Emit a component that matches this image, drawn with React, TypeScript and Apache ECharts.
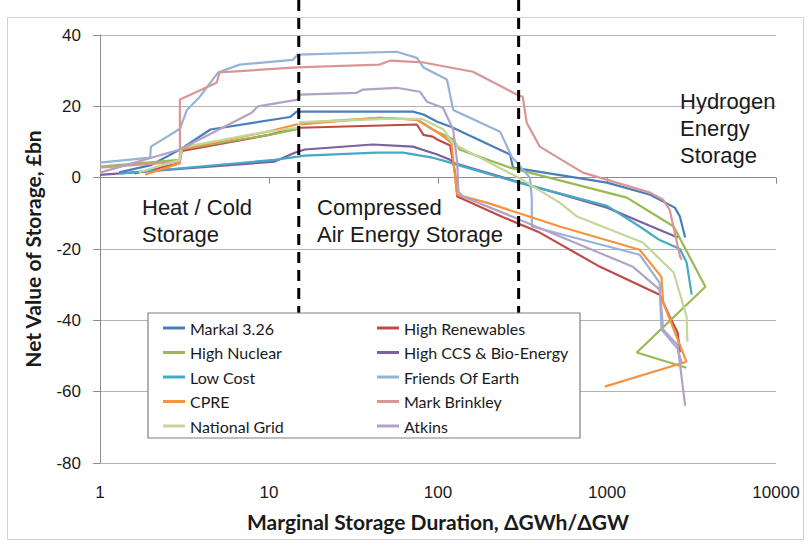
import React, { useEffect, useRef } from "react";
import * as echarts from "echarts";

const seriesNames = [
  "Markal 3.26",
  "High Renewables",
  "High Nuclear",
  "High CCS & Bio-Energy",
  "Low Cost",
  "Friends Of Earth",
  "CPRE",
  "Mark Brinkley",
  "National Grid",
  "Atkins",
];
const legendCol1 = ["Markal 3.26", "High Nuclear", "Low Cost", "CPRE", "National Grid"];
const legendCol2 = ["High Renewables", "High CCS & Bio-Energy", "Friends Of Earth", "Mark Brinkley", "Atkins"];
const seriesColors = [
  "#4A7EBB", "#BE4B48", "#98B954", "#7D60A0", "#46AAC5",
  "#95B3D7", "#F69240", "#D99694", "#C3D69B", "#B3A2C7",
];

const markal = [[1.3,1.5],[2,3.5],[3,8],[4.5,13.5],[13.3,17],[14.6,18.5],[15.3,18.5],[71,18.5],[82,17.7],[99,15.7],[120,14.2],[267,6.5],[278,2.8],[400,1.6],[1000,-1.4],[1800,-4.8],[2520,-8.4],[2700,-10.9],[2900,-16.8]];
const highRenewables = [[1.6,1.2],[2.95,4],[3.05,7.5],[10,12],[13.3,13.5],[15.3,14],[75,14.9],[82,12],[93,11.5],[99,10.7],[118,9],[126,1.4],[130,-5.3],[241,-11],[400,-15.4],[910,-25],[2050,-32.8],[2350,-39],[2620,-43.5],[2700,-49]];
const highNuclear = [[1,3.1],[2.95,5],[3.05,8],[10,12],[14.5,13.5],[15.3,15.4],[45,16.8],[75,16.3],[93,13.5],[123,10.7],[134,7.9],[267,2.8],[1310,-5.6],[2480,-13.7],[3820,-30.6],[1500,-49],[2950,-53.3]];
const highCCS = [[1,0.8],[10.8,4.5],[14.2,7],[16.3,7.9],[41,9.3],[71,8.7],[99,6.5],[118,5],[123,4.2],[300,-1.2],[1000,-8.4],[1560,-12.3],[2620,-16.8]];
const lowCost = [[1.3,1.1],[10.8,5],[14.8,5.9],[16.3,6.2],[43,7],[62,7],[93,5.6],[113,4.5],[130,3.6],[300,-1.4],[1000,-7.9],[1560,-13.7],[2050,-17.5],[2700,-20],[2960,-23.8],[3170,-32.8]];
const friendsOfEarth = [[1,4.2],[1.98,5.6],[2,8.7],[2.5,11.5],[2.97,13.7],[3.27,19],[3.9,22.7],[5,29.5],[6.7,31.7],[13.8,33],[14.8,34.5],[57,35.3],[75,33.6],[82,30.9],[113,27.5],[123,19],[233,12.9],[273,5.9],[350,0],[359,-6],[359,-13.7],[1560,-21.6],[2050,-29.5],[2100,-42.6],[2620,-48],[2770,-52]];
const cpre = [[1.85,0.8],[2.95,4],[3.05,8],[10,13],[14.5,14.9],[15.3,14.9],[45,16.8],[75,16.3],[100,12.6],[120,9.8],[123,5],[130,-4.8],[194,-7],[525,-13.7],[1560,-20.2],[2100,-27.8],[2150,-35],[2950,-51.6],[970,-58.6]];
const markBrinkley = [[1,2.8],[2.97,4.5],[2.97,21.9],[4.9,26.6],[5.1,29.5],[14.6,30.9],[45,31.7],[52,32.8],[82,32.3],[161,29.7],[292,23.3],[317,22.7],[335,15.4],[400,8.7],[720,1.4],[1800,-4.2],[2150,-6.2],[2350,-9],[2700,-22],[2770,-23]];
const nationalGrid = [[1.7,1.5],[2.97,5],[3.05,8.5],[10,13],[14.8,14],[15.3,15.6],[50,16.5],[80,16.5],[108,13.5],[123,9.5],[300,0],[525,-7],[665,-10.9],[1630,-18.2],[2480,-26.6],[2960,-39],[2990,-46]];
const atkins = [[1,1.4],[2.97,7.9],[7.9,18.2],[8.6,20],[14.8,21.9],[15.3,23.3],[33,23.8],[36,24.7],[57,25.2],[78,24.1],[86,21.3],[107,19.6],[123,13.5],[130,4.2],[132,-3.9],[140,-5.3],[241,-9.8],[1425,-25],[2050,-31.4],[2150,-42.6],[2620,-47],[2900,-64]];

const seriesData = [markal, highRenewables, highNuclear, highCCS, lowCost, friendsOfEarth, cpre, markBrinkley, nationalGrid, atkins];

const xTicks = [1, 10, 100, 1000, 10000];
const yMin = -80, yMax = 40, yStep = 20;
const regionBounds = [15, 300];
const regionLabels = ["Heat / Cold\nStorage", "Compressed\nAir Energy Storage", "Hydrogen\nEnergy\nStorage"];

export default function App() {
  const ref = useRef<HTMLDivElement>(null);
  useEffect(() => {
    if (!ref.current) return;
    const chart = echarts.init(ref.current, null, { renderer: "svg" });
    const legendCommon = {
      orient: "vertical",
      icon: "rect",
      itemWidth: 22,
      itemHeight: 3,
      itemGap: 8.5,
      padding: 0,
      z: 6,
      textStyle: { fontFamily: "Lato", fontSize: 16, color: "#1a1a1a", lineHeight: 16 },
    };
    chart.setOption({
      animation: false,
      backgroundColor: "#ffffff",
      grid: { left: 100, right: 34, top: 35, bottom: 81, containLabel: false },
      xAxis: {
        type: "log",
        logBase: 10,
        min: xTicks[0],
        max: xTicks[xTicks.length - 1],
        name: "Marginal Storage Duration, \u0394GWh/\u0394GW",
        nameLocation: "middle",
        nameGap: 48,
        nameTextStyle: { fontFamily: "Lato", fontWeight: "bold", fontSize: 21, color: "#1a1a1a" },
        axisLine: { show: true, lineStyle: { color: "#8c8c8c", width: 1 } },
        axisTick: { show: true, length: 6, lineStyle: { color: "#8c8c8c" } },
        minorTick: { show: false },
        splitLine: { show: false },
        axisLabel: {
          fontFamily: "Liberation Sans",
          fontSize: 17,
          color: "#1a1a1a",
          margin: 21,
          formatter: (v: number) => String(Math.round(v)),
        },
      },
      yAxis: {
        type: "value",
        min: yMin,
        max: yMax,
        interval: yStep,
        name: "Net Value of Storage, \u00a3bn",
        nameLocation: "middle",
        nameGap: 57,
        nameTextStyle: { fontFamily: "Lato", fontWeight: "bold", fontSize: 21, color: "#1a1a1a" },
        axisLine: { show: true, lineStyle: { color: "#8c8c8c", width: 1 } },
        axisTick: { show: true, length: 7, lineStyle: { color: "#8c8c8c" } },
        splitLine: { show: true, lineStyle: { color: "#b3b3b3", width: 1 } },
        axisLabel: { fontFamily: "Liberation Sans", fontSize: 17, color: "#1a1a1a", margin: 19 },
      },
      legend: [
        { ...legendCommon, data: legendCol1, left: 163, top: 320 },
        { ...legendCommon, data: legendCol2, left: 377, top: 320 },
      ],
      series: seriesNames.map((name, i) => ({
        name,
        type: "line",
        data: seriesData[i],
        showSymbol: false,
        symbol: "none",
        color: seriesColors[i],
        lineStyle: { width: 2.2, color: seriesColors[i] },
        z: 2,
      })),
    });

    const xa = chart.convertToPixel({ xAxisIndex: 0 }, regionBounds[0]) as number;
    const xb = chart.convertToPixel({ xAxisIndex: 0 }, regionBounds[1]) as number;
    const textStyle = { font: "22px 'Liberation Sans'", fill: "#1a1a1a", lineHeight: 27, verticalAlign: "top" };
    chart.setOption({
      graphic: [
        { type: "rect", z: 0, silent: true, shape: { x: 7.5, y: 17.5, width: 796, height: 522 }, style: { fill: "none", stroke: "#d0d0d0", lineWidth: 1 } },
        { type: "line", z: 5, silent: true, shape: { x1: xa, y1: 0, x2: xa, y2: 313 }, style: { stroke: "#000", lineWidth: 3, lineDash: [11, 7] } },
        { type: "line", z: 5, silent: true, shape: { x1: xb, y1: 0, x2: xb, y2: 313 }, style: { stroke: "#000", lineWidth: 3, lineDash: [11, 7] } },
        { type: "rect", z: 5, silent: true, shape: { x: 148, y: 313, width: 432, height: 125 }, style: { fill: "#ffffff", stroke: "#7f7f7f", lineWidth: 1.2 } },
        { type: "text", z: 5, silent: true, style: { ...textStyle, x: 142, y: 194, text: regionLabels[0] } },
        { type: "text", z: 5, silent: true, style: { ...textStyle, x: 317, y: 194, text: regionLabels[1] } },
        { type: "text", z: 5, silent: true, style: { ...textStyle, x: 680, y: 88, text: regionLabels[2] } },
      ],
    });
    return () => chart.dispose();
  }, []);
  return <div ref={ref} style={{ position: "fixed", left: 0, top: 0, width: 810, height: 544 }} />;
}
